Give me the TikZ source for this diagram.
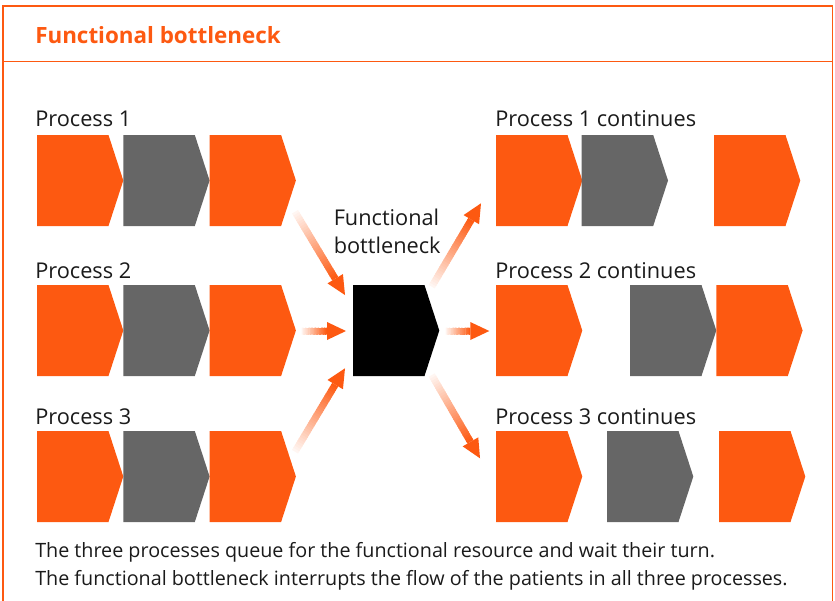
\documentclass[tikz,border=0pt]{standalone}
\usepackage{fontspec}
\setmainfont{Open Sans}
\usetikzlibrary{calc}
\definecolor{bnorange}{RGB}{253,89,17}
\definecolor{bngray}{RGB}{102,102,102}
\definecolor{bntext}{RGB}{26,26,26}
\newcommand\gradarrow[3]{%
  \coordinate (#3) at ($(#2)!14.25pt!(#1)$);
  \foreach \i in {0,...,29}{%
    \pgfmathsetmacro\pc{4+96*(\i+0.5)/30}%
    \pgfmathsetmacro\sa{\i/30}%
    \pgfmathsetmacro\sb{min(1,(\i+1.4)/30)}%
    \draw[line width=5.25pt, draw=bnorange!\pc!white] ($(#1)!\sa!(#3)$) -- ($(#1)!\sb!(#3)$);
  }
  \fill[bnorange] (#2) -- ($(#3)!6.75pt!90:(#2)$) -- ($(#3)!6.75pt!-90:(#2)$) -- cycle;
}
\tikzset{
  chev/.pic={\fill[#1] (0,0) -- (71.5,0) -- (86.3,45.5) -- (71.5,91) -- (0,91) -- cycle;
             \coordinate (-tip) at (86.3,45.5);},
  lbl/.style={anchor=base west, inner sep=0pt, text=bntext, font=\fontsize{16.3}{20}\selectfont},
  note/.style={anchor=base west, inner sep=0pt, text=bntext, font=\fontsize{14.8}{21}\selectfont},
  frame/.style={draw=bnorange, line width=1.3pt},
}
\begin{document}
\begin{tikzpicture}[x=0.75pt, y=-0.75pt]
\useasboundingbox (0,0) rectangle (835,600);
% frame
\draw[frame] (3,602) -- (3,6) -- (832.5,6) -- (832.5,602);
\draw[draw=bnorange, line width=0.8pt] (3,61.5) -- (832.5,61.5);
\node[anchor=base west, inner sep=0pt, text=bnorange, font=\fontsize{16.8}{20}\selectfont\bfseries] (title) at (35,43) {Functional bottleneck};
% left labels
\node[lbl] (l1) at (35,126) {Process 1};
\node[lbl] (l2) at (35,278.3) {Process 2};
\node[lbl] (l3) at (35,424) {Process 3};
% left rows
\pic (a1) at (37,135) {chev=bnorange};
\pic (a2) at (123.3,135) {chev=bngray};
\pic (a3) at (209.6,135) {chev=bnorange};
\pic (b1) at (37,285) {chev=bnorange};
\pic (b2) at (123.3,285) {chev=bngray};
\pic (b3) at (209.6,285) {chev=bnorange};
\pic (c1) at (37,431) {chev=bnorange};
\pic (c2) at (123.3,431) {chev=bngray};
\pic (c3) at (209.6,431) {chev=bnorange};
% bottleneck
\pic (bn) at (353,285) {chev=black};
\node[lbl] (bnl1) at (333.5,225) {Functional};
\node[lbl] (bnl2) at (333.5,253) {bottleneck};
% right labels
\node[lbl] (r1) at (495,126) {Process 1 continues};
\node[lbl] (r2) at (495,278.3) {Process 2 continues};
\node[lbl] (r3) at (495,424) {Process 3 continues};
% right rows
\pic (d1) at (496,135) {chev=bnorange};
\pic (d2) at (581.7,135) {chev=bngray};
\pic (d3) at (714,135) {chev=bnorange};
\pic (e1) at (496,285) {chev=bnorange};
\pic (e2) at (630,285) {chev=bngray};
\pic (e3) at (716.3,285) {chev=bnorange};
\pic (f1) at (496,431) {chev=bnorange};
\pic (f2) at (607,431) {chev=bngray};
\pic (f3) at (719,431) {chev=bnorange};
% arrows
\coordinate (in1t) at (295,211.7);   \coordinate (in1h) at (345,295);
\coordinate (in2t) at (301.7,331);   \coordinate (in2h) at (346,331);
\coordinate (in3t) at (295,451.7);   \coordinate (in3h) at (345,368.3);
\coordinate (out1t) at (431.7,286.7); \coordinate (out1h) at (481,203.3);
\coordinate (out2t) at (445.7,331);   \coordinate (out2h) at (489.3,331);
\coordinate (out3t) at (431.7,375);   \coordinate (out3h) at (480,458.3);
\gradarrow{in1t}{in1h}{in1b}
\gradarrow{in2t}{in2h}{in2b}
\gradarrow{in3t}{in3h}{in3b}
\gradarrow{out1t}{out1h}{out1b}
\gradarrow{out2t}{out2h}{out2b}
\gradarrow{out3t}{out3h}{out3b}
% notes
\node[note] (n1) at (35,557.7) {The three processes queue for the functional resource and wait their turn.};
\node[note] (n2) at (35,585.7) {The functional bottleneck interrupts the flow of the patients in all three processes.};
\end{tikzpicture}
\end{document}
